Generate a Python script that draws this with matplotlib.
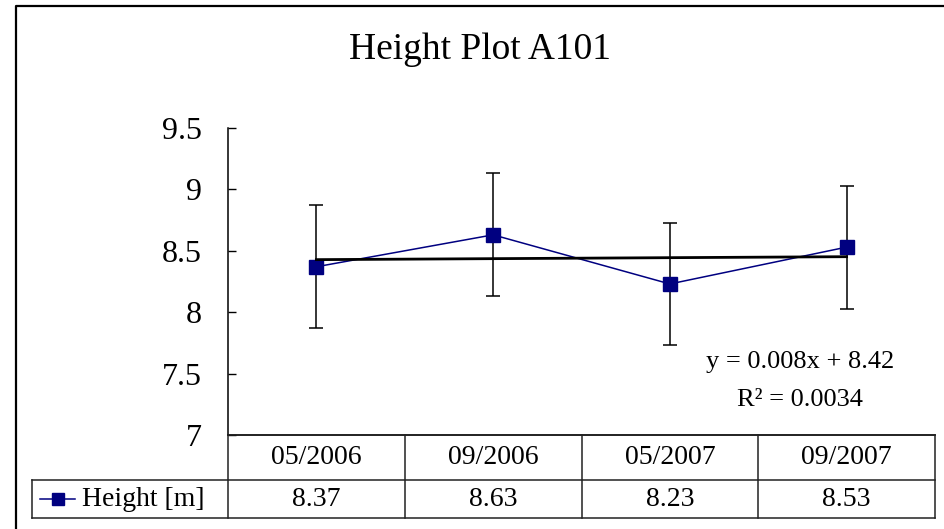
import matplotlib
matplotlib.use("Agg")
import matplotlib.pyplot as plt
from matplotlib.lines import Line2D
from matplotlib.transforms import blended_transform_factory

# ---- data ----
categories = ['05/2006', '09/2006', '05/2007', '09/2007']
heights = [8.37, 8.63, 8.23, 8.53]
height_labels = ['8.37', '8.63', '8.23', '8.53']
errors = [0.5, 0.5, 0.5, 0.5]
trend_slope = 0.008
trend_intercept = 8.42
r_squared = '0.0034'
yticks = [7, 7.5, 8, 8.5, 9, 9.5]
ytick_labels = ['7', '7.5', '8', '8.5', '9', '9.5']
title = 'Height Plot A101'
series_name = 'Height [m]'

FONT = 'Liberation Serif'
W, H = 944, 529
fig = plt.figure(figsize=(W / 100, H / 100), dpi=100)

def fx(px):
    return px / W

def fy(py):
    return 1 - py / H

# outer chart frame (cropped at right and bottom)
fig.add_artist(Line2D([fx(16), fx(16), 1.0], [0.0, fy(6), fy(6)],
                      transform=fig.transFigure, color='black', lw=1.6))

ax = fig.add_axes([fx(228), fy(435), fx(935) - fx(228), fy(128) - fy(435)])
xs = list(range(1, len(categories) + 1))

ax.errorbar(xs, heights, yerr=errors, fmt='none', ecolor='black',
            elinewidth=1.1, capsize=5, capthick=1.1, zorder=2)
ax.plot(xs, heights, color='#000080', lw=1.1, marker='s', markersize=9.5,
        markerfacecolor='#000080', markeredgecolor='#000080', zorder=3)
tx = [xs[0], xs[-1]]
ty = [trend_slope * v + trend_intercept for v in tx]
ax.plot(tx, ty, color='black', lw=2.0, zorder=4)

ax.set_xlim(0.5, len(categories) + 0.5)
ax.set_ylim(7, 9.5)
ax.set_xticks([])
ax.set_yticks(yticks)
ax.set_yticklabels(ytick_labels, fontsize=23, family=FONT)
ax.tick_params(axis='y', direction='in', length=6, width=1, pad=19)
for s in ['top', 'right']:
    ax.spines[s].set_visible(False)
ax.spines['left'].set_linewidth(1.1)
ax.spines['bottom'].set_linewidth(1.1)
ax.patch.set_alpha(0)

# trend equation
fig.text(fx(800), fy(362), 'y = 0.008x + 8.42', ha='center', va='center',
         fontsize=19, family=FONT)
fig.text(fx(800), fy(400), 'R\u00b2 = ' + r_squared, ha='center', va='center',
         fontsize=19, family=FONT)

# title
fig.text(fx(480), fy(50), title, ha='center', va='center', fontsize=27, family=FONT)

# data table
bt = blended_transform_factory(ax.transData, fig.transFigure)
edges = [x - 0.5 for x in xs] + [xs[-1] + 0.5]
y_top, y_mid, y_bot = fy(435), fy(480), fy(518)
lc = '#222222'
for e in edges:
    fig.add_artist(Line2D([e, e], [y_top, y_bot], transform=bt, color=lc, lw=1.1))
fig.add_artist(Line2D([edges[0], edges[-1]], [y_top, y_top], transform=bt, color=lc, lw=1.1))
x_leg = fx(32)
x_right = ax.transData.transform((edges[-1], 0))[0] / W
for yy in (y_mid, y_bot):
    fig.add_artist(Line2D([x_leg, x_right], [yy, yy], transform=fig.transFigure, color=lc, lw=1.1))
fig.add_artist(Line2D([x_leg, x_leg], [y_mid, y_bot], transform=fig.transFigure, color=lc, lw=1.1))

for x, c, v in zip(xs, categories, height_labels):
    ax.text(x, fy(458), c, transform=bt, ha='center', va='center', fontsize=20, family=FONT)
    ax.text(x, fy(499), v, transform=bt, ha='center', va='center', fontsize=20, family=FONT)

# legend key inside table
fig.add_artist(Line2D([fx(40), fx(75)], [fy(499), fy(499)], transform=fig.transFigure,
                      color='#000080', lw=1.1))
fig.add_artist(Line2D([fx(57.5)], [fy(499)], transform=fig.transFigure, marker='s',
                      markersize=9, color='#000080', lw=0))
fig.text(fx(82), fy(499), series_name, ha='left', va='center', fontsize=20, family=FONT)

fig.savefig('out.png', dpi=100)
